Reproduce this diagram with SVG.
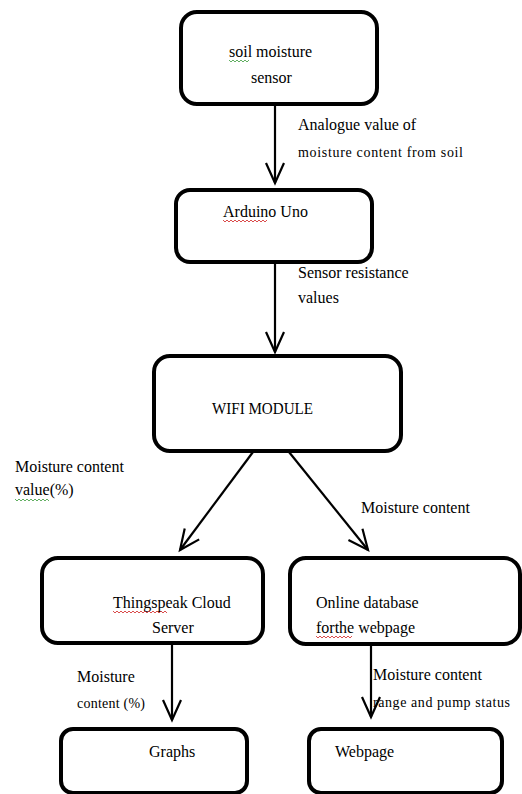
<svg xmlns="http://www.w3.org/2000/svg" width="522" height="794" viewBox="0 0 522 794">
<style>
.box{fill:#fff;stroke:#000;stroke-width:4}
.t{font-family:"Liberation Serif","Times New Roman",serif;font-size:16px;fill:#000}
.s{font-family:"Liberation Serif","Times New Roman",serif;font-size:14px;fill:#000}
.c{fill:none;stroke:#000;stroke-width:2.2}
.sq{fill:none;stroke-width:0.8}
</style>
<defs>
<marker id="ah" markerUnits="userSpaceOnUse" markerWidth="30" markerHeight="30" refX="0" refY="0" orient="auto" overflow="visible">
<path d="M-20,-9 L0,0 L-20,9" fill="none" stroke="#000" stroke-width="2.2"/>
</marker>
</defs>
<rect width="522" height="794" fill="#fff"/>
<g id="connectors">
<line class="c" x1="275" y1="105" x2="275" y2="183" marker-end="url(#ah)"/>
<line class="c" x1="275" y1="262" x2="275" y2="352" marker-end="url(#ah)"/>
<line class="c" x1="253" y1="452" x2="180" y2="550" marker-end="url(#ah)"/>
<line class="c" x1="289" y1="452" x2="368" y2="550" marker-end="url(#ah)"/>
<line class="c" x1="172" y1="644" x2="172" y2="720" marker-end="url(#ah)"/>
<line class="c" x1="371" y1="645" x2="371" y2="717" marker-end="url(#ah)"/>
<text class="t" x="298" y="130">Analogue value of</text>
<text class="s" x="298" y="157" textLength="165" lengthAdjust="spacing">moisture content from soil</text>
<text class="t" x="298" y="278">Sensor resistance</text>
<text class="t" x="298" y="303">values</text>
<text class="t" x="15" y="472">Moisture content</text>
<text class="t" x="15" y="495">value(%)</text>
<text class="t" x="361" y="513">Moisture content</text>
<text class="t" x="77" y="682">Moisture</text>
<text class="s" x="77" y="708" textLength="68" lengthAdjust="spacing">content (%)</text>
<text class="t" x="373" y="680">Moisture content</text>
<text class="s" x="373" y="707" textLength="137" lengthAdjust="spacing">range and pump status</text>
<path class="sq" stroke="#3a9a3a" d="M15,499 l2,2 2,-2 2,2 2,-2 2,2 2,-2 2,2 2,-2 2,2 2,-2 2,2 2,-2 2,2 2,-2 2,2 2,-2 2,2"/>
</g>
<g id="soil-sensor">
<rect class="box" x="181" y="12" width="196" height="92" rx="16"/>
<text class="t" x="229" y="57">soil moisture</text>
<text class="t" x="251" y="83">sensor</text>
<path class="sq" stroke="#3a9a3a" d="M229,60 l2,2 2,-2 2,2 2,-2 2,2 2,-2 2,2 2,-2 2,2 2,-2"/>
</g>
<g id="arduino">
<rect class="box" x="176" y="190" width="196" height="72" rx="14"/>
<text class="t" x="223" y="217">Arduino Uno</text>
<path class="sq" stroke="#d02020" d="M223,220 l2,2 2,-2 2,2 2,-2 2,2 2,-2 2,2 2,-2 2,2 2,-2 2,2 2,-2 2,2 2,-2 2,2 2,-2 2,2 2,-2 2,2 2,-2 2,2 2,-2"/>
</g>
<g id="wifi">
<rect class="box" x="154" y="356" width="247" height="95" rx="16"/>
<text class="t" x="212" y="414" textLength="101" lengthAdjust="spacingAndGlyphs">WIFI MODULE</text>
</g>
<g id="thingspeak">
<rect class="box" x="42" y="558" width="221" height="85" rx="16"/>
<text class="t" x="113" y="608">Thingspeak Cloud</text>
<text class="t" x="152" y="633">Server</text>
<path class="sq" stroke="#d02020" d="M113,611 l2,2 2,-2 2,2 2,-2 2,2 2,-2 2,2 2,-2 2,2 2,-2 2,2 2,-2 2,2 2,-2 2,2 2,-2 2,2 2,-2 2,2 2,-2 2,2 2,-2 2,2 2,-2 2,2 2,-2 2,2"/>
</g>
<g id="online-db">
<rect class="box" x="290" y="558" width="230" height="86" rx="16"/>
<text class="t" x="316" y="608">Online database</text>
<text class="t" x="316" y="633">forthe webpage</text>
<path class="sq" stroke="#d02020" d="M316,636 l2,2 2,-2 2,2 2,-2 2,2 2,-2 2,2 2,-2 2,2 2,-2 2,2 2,-2 2,2 2,-2 2,2 2,-2 2,2 2,-2"/>
</g>
<g id="graphs">
<rect class="box" x="61" y="729" width="186" height="64" rx="12"/>
<text class="t" x="149" y="757">Graphs</text>
</g>
<g id="webpage">
<rect class="box" x="309" y="729" width="193" height="64" rx="12"/>
<text class="t" x="335" y="757">Webpage</text>
</g>
</svg>
